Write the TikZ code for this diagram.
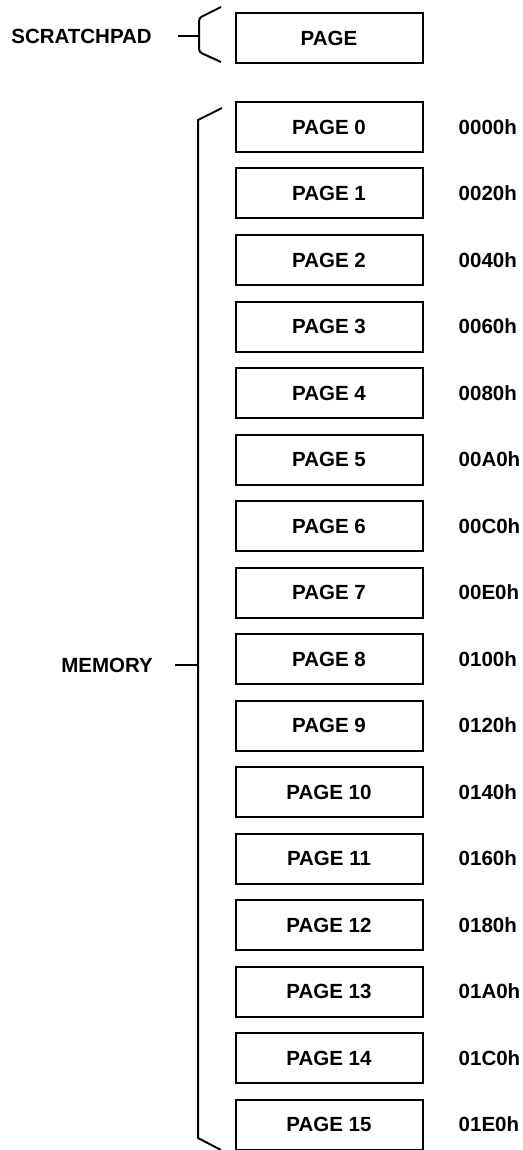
\documentclass[tikz,border=0pt]{standalone}
\usepackage{fontspec}
\setmainfont{Liberation Sans}
\usetikzlibrary{positioning}
\def\PageFont{\fontsize{20.5}{24}\selectfont\bfseries}

\begin{document}
\begin{tikzpicture}[
  x=1pt, y=-1pt,
  pagebox/.style={
    draw,
    line width=2pt,
    minimum width=187pt,
    minimum height=50pt,
    inner sep=0pt,
    font=\PageFont
  },
  addr/.style={anchor=west, inner sep=0pt, font=\PageFont},
  sidelabel/.style={anchor=east, inner sep=0pt, font=\PageFont},
  brace/.style={line width=2pt, line join=round}
]
\useasboundingbox (0,0) rectangle (522,1150);
\def\XBox{329}
\def\YFirst{127}
\def\YPitch{66.5}

% scratchpad
\node[pagebox] (scratch) at (\XBox,38) {PAGE};
\node[sidelabel] (scratchlbl) at (152,36) {SCRATCHPAD};
\coordinate (sptop) at (221,7);
\coordinate (spmid) at (199,36);
\coordinate (spbot) at (221,62);
\draw[brace, rounded corners=3pt] (sptop) -- (199,18) -- (spmid) -- (199,52) -- (spbot);
\draw[brace] (178,36) -- (spmid);

% memory pages
\foreach \i/\a in {0/0000h,1/0020h,2/0040h,3/0060h,4/0080h,5/00A0h,6/00C0h,7/00E0h,
                   8/0100h,9/0120h,10/0140h,11/0160h,12/0180h,13/01A0h,14/01C0h,15/01E0h}
{
  \node[pagebox] (page\i) at (\XBox,{\YFirst+\i*\YPitch}) {PAGE \i};
  \node[addr,right=35pt of page\i.east] (addr\i) {\a};
}

% memory brace
\node[sidelabel] (memlbl) at (153,665) {MEMORY};
\coordinate (memtop) at (222,108);
\coordinate (memmid) at (198,665);
\coordinate (membot) at (221,1150);
\draw[brace] (memtop) -- (198,120) -- (memmid) -- (198,1138) -- (membot);
\draw[brace] (175,665) -- (memmid);
\end{tikzpicture}
\end{document}
